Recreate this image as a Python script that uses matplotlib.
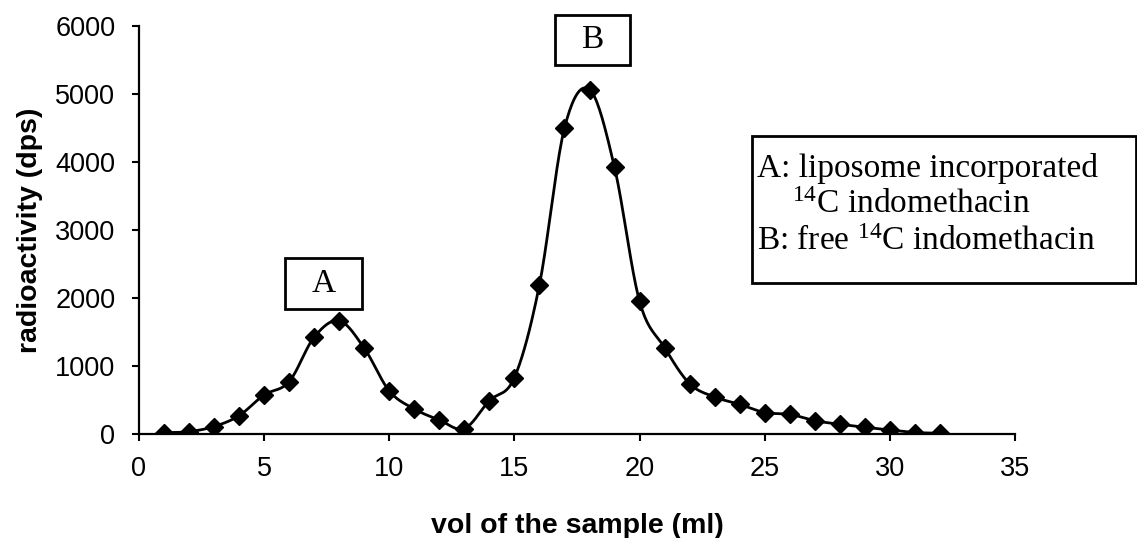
import numpy as np
import matplotlib
matplotlib.use("Agg")
import matplotlib.pyplot as plt
from matplotlib.patches import Rectangle

plt.rcParams["mathtext.fontset"] = "custom"
plt.rcParams["mathtext.rm"] = "Liberation Serif"
plt.rcParams["mathtext.default"] = "rm"

# fraction volume (ml) and measured activity
vol = [1, 2, 3, 4, 5, 6, 7, 8, 9, 10, 11, 12, 13, 14, 15, 16,
       17, 18, 19, 20, 21, 22, 23, 24, 25, 26, 27, 28, 29, 30, 31, 32]
dps = [20, 35, 110, 270, 575, 770, 1425, 1665, 1262, 633, 368, 206, 80, 490, 830, 2195,
       4500, 5066, 3920, 1950, 1270, 740, 544, 436, 315, 290, 196, 143, 99, 59, 22, 12]

xticks = [0, 5, 10, 15, 20, 25, 30, 35]
yticks = [0, 1000, 2000, 3000, 4000, 5000, 6000]


def smooth(x, y, n=20):
    # catmull-rom through the points, like the spreadsheet "smoothed line"
    x = np.asarray(x, float)
    y = np.asarray(y, float)
    px = np.concatenate([[x[0]], x, [x[-1]]])
    py = np.concatenate([[y[0]], y, [y[-1]]])
    t = np.linspace(0, 1, n, endpoint=False)
    outx, outy = [], []
    for i in range(1, len(px) - 2):
        for p, out in ((px, outx), (py, outy)):
            p0, p1, p2, p3 = p[i - 1], p[i], p[i + 1], p[i + 2]
            out.extend(0.5 * (2 * p1 + (-p0 + p2) * t
                              + (2 * p0 - 5 * p1 + 4 * p2 - p3) * t ** 2
                              + (-p0 + 3 * p1 - 3 * p2 + p3) * t ** 3))
    outx.append(x[-1])
    outy.append(y[-1])
    return outx, outy


W, H = 1137, 538
fig = plt.figure(figsize=(W / 100, H / 100), dpi=100)
ax = fig.add_axes([139 / W, 1 - 434 / H, 876 / W, 408 / H])

sx, sy = smooth(vol, dps)
ax.plot(sx, sy, color="black", lw=2.0, zorder=2)
ax.plot(vol, dps, ls="none", marker="D", ms=9, color="black", zorder=3)

ax.set_xlim(0, 35)
ax.set_ylim(0, 6000)
ax.set_xticks(xticks)
ax.set_yticks(yticks)
ax.spines["top"].set_visible(False)
ax.spines["right"].set_visible(False)
for s in ("left", "bottom"):
    ax.spines[s].set_linewidth(1.6)
ax.tick_params(direction="out", length=5, width=1.5, labelsize=19.5)
ax.tick_params(axis="y", pad=12)
ax.tick_params(axis="x", pad=11)
for lab in ax.get_xticklabels() + ax.get_yticklabels():
    lab.set_family("Liberation Sans")

ax.set_xlabel("vol of the sample (ml)", fontsize=20.5, fontweight="bold",
              family="Liberation Sans", labelpad=22)
ax.set_ylabel("radioactivity (dps)", fontsize=20.5, fontweight="bold",
              family="Liberation Sans", labelpad=9)


def frame(x0, y0, x1, y1):
    # box in figure pixels, measured from the top-left corner
    fig.patches.append(Rectangle((x0 / W, 1 - y1 / H), (x1 - x0) / W, (y1 - y0) / H,
                                 transform=fig.transFigure, fc="white", ec="black",
                                 lw=2, zorder=5))


serif = dict(family="Liberation Serif", fontsize=24, zorder=6)

frame(285, 258, 362, 309)
fig.text(323.5 / W, 1 - 283.5 / H, "A", ha="center", va="center", **serif)
frame(555, 15, 630, 65)
fig.text(592.5 / W, 1 - 40 / H, "B", ha="center", va="center", **serif)

frame(752, 136, 1136, 283)
fig.text(757 / W, 1 - 177 / H, "A: liposome incorporated", ha="left", va="baseline", **serif)
fig.text(792 / W, 1 - 213 / H, "$^{14}$C indomethacin", ha="left", va="baseline", **serif)
fig.text(757 / W, 1 - 250 / H, "B: free $^{14}$C indomethacin", ha="left", va="baseline", **serif)

fig.savefig("out.png", dpi=100)
